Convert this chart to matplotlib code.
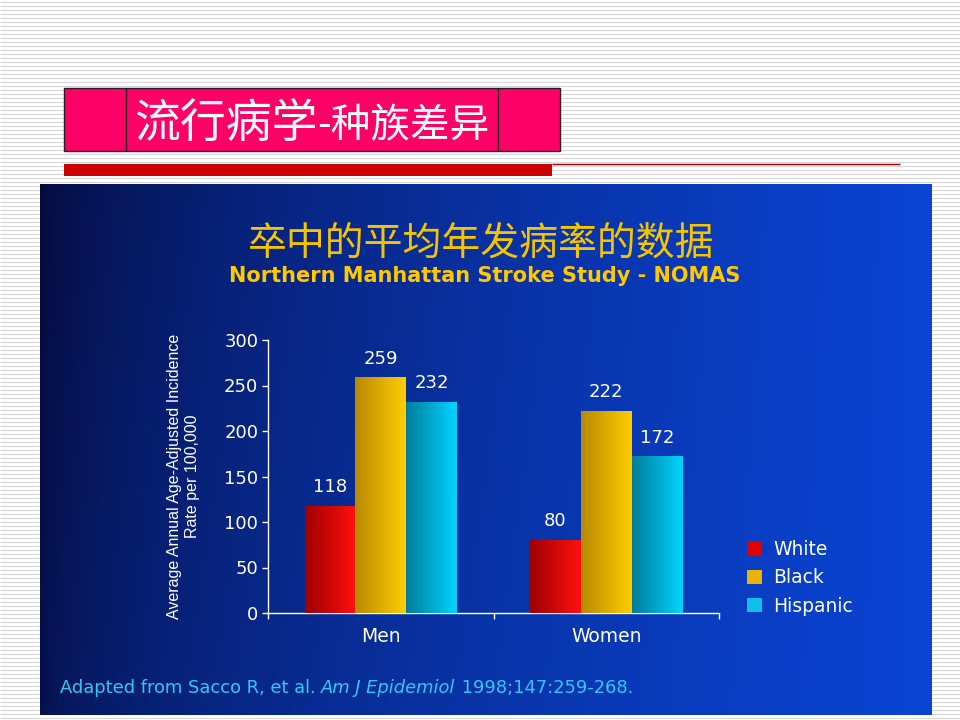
import numpy as np
import matplotlib
matplotlib.use("Agg")
import matplotlib.pyplot as plt
from matplotlib.patches import Rectangle, Patch

plt.rcParams['font.family'] = ['DejaVu Sans', 'Noto Sans CJK SC']

# data
groups = ['Men', 'Women']
series = ['White', 'Black', 'Hispanic']
values = {
    'White': [118, 80],
    'Black': [259, 222],
    'Hispanic': [232, 172],
}
yticks = [0, 50, 100, 150, 200, 250, 300]

# bar gradient colours (left -> right)
grad = {
    'White': ('#a00000', '#ff1010'),
    'Black': ('#b88a00', '#ffcc00'),
    'Hispanic': ('#007d9c', '#00d4ff'),
}
flat = {'White': '#e00000', 'Black': '#e8b400', 'Hispanic': '#10bfe8'}

fig = plt.figure(figsize=(9.6, 7.2), dpi=100)

# slide background, in pixel coordinates
bg = fig.add_axes([0, 0, 1, 1])
bg.set_xlim(0, 960)
bg.set_ylim(720, 0)
bg.axis('off')
bg.hlines(np.arange(1.5, 720, 4), 0, 960, color='#d6d6d6', lw=0.8, zorder=0)

bg.add_patch(Rectangle((64, 88), 496, 63, fc='#ff0066', ec='#222222', lw=1, zorder=1))
bg.vlines([126, 498], 88, 151, color='#222222', lw=1, zorder=1.5)
bg.add_patch(Rectangle((64, 164), 488, 12, fc='#cc0000', ec='none', zorder=1))
bg.hlines(164, 552, 900, color='#a00000', lw=1, zorder=1)

t1 = bg.text(134, 137, '流行病学', color='white', fontsize=33,
             family=['Noto Sans CJK SC'], va='baseline', zorder=3)
fig.canvas.draw()
r = fig.canvas.get_renderer()
ext = t1.get_window_extent(r)
bg.text(ext.x1, 137, '-种族差异', color='white', fontsize=28.5,
        family=['Noto Sans CJK SC'], va='baseline', zorder=3)

# blue panel gradient
gx = np.linspace(0, 1, 300)
gy = np.linspace(0, 1, 200)
X, Y = np.meshgrid(gx, gy)
f = np.clip(X ** 0.6 + 0.12 * Y * (1 - X), 0, 1)
c0 = np.array([5, 10, 58]) / 255
c1 = np.array([10, 68, 212]) / 255
img = c0 + (c1 - c0) * f[..., None]
bg.imshow(img, extent=(40, 932, 715, 184), aspect='auto', zorder=2)
bg.set_xlim(0, 960)
bg.set_ylim(720, 0)

fig.text(0.501, 0.661, '卒中的平均年发病率的数据', color='#f5c400', fontsize=28,
         family=['Noto Sans CJK SC'], ha='center', va='center')
fig.text(0.505, 0.617, 'Northern Manhattan Stroke Study - NOMAS', color='#ffc800',
         fontsize=15, fontweight='bold', ha='center', va='center')

# chart
ax = fig.add_axes([268 / 960, 107 / 720, 451 / 960, 273 / 720])
ax.patch.set_alpha(0)
x = np.arange(len(groups))
w = 0.225
for i, s in enumerate(series):
    bars = ax.bar(x + (i - 1) * w, values[s], w, color=flat[s], zorder=2)
    cmap = matplotlib.colors.LinearSegmentedColormap.from_list(s, grad[s])
    for b, v in zip(bars, values[s]):
        im = ax.imshow(np.linspace(0, 1, 64)[None, :], cmap=cmap, aspect='auto',
                       extent=(b.get_x(), b.get_x() + b.get_width(), 0, b.get_height()),
                       zorder=3)
        im.set_clip_path(b)
        ax.annotate(str(v), (b.get_x() + b.get_width() / 2, v), xytext=(0, 7),
                    textcoords='offset points', ha='center', va='bottom',
                    color='white', fontsize=13)

ax.set_xlim(-0.5, 1.5)
ax.set_ylim(0, 300)
ax.set_yticks(yticks)
ax.set_xticks(x)
ax.set_xticklabels(groups)
ax.set_xticks([-0.5, 0.5, 1.5], minor=True)
for sp in ['top', 'right']:
    ax.spines[sp].set_visible(False)
for sp in ['left', 'bottom']:
    ax.spines[sp].set_color('white')
    ax.spines[sp].set_linewidth(1)
ax.tick_params(axis='y', colors='white', labelsize=13, length=4, width=1, pad=3)
ax.tick_params(axis='x', which='major', colors='white', labelsize=13.5, length=0, pad=10)
ax.tick_params(axis='x', which='minor', colors='white', length=4, width=1)

ax.set_ylabel('Average Annual Age-Adjusted Incidence\nRate per 100,000', color='white',
              fontsize=11.5, family=['Liberation Sans', 'DejaVu Sans'],
              linespacing=1.2)
ax.yaxis.set_label_coords(-0.151, 0.5)

handles = [Patch(fc=flat[s], ec='none') for s in series]
fig.legend(handles, series, loc='upper left', bbox_to_anchor=(730 / 960, 1 - 523 / 720),
           frameon=False, fontsize=13.5, labelcolor='white', handlelength=0.8,
           handleheight=0.8, handletextpad=0.6, labelspacing=0.5)

# footnote, with italic journal name
parts = [('Adapted from Sacco R, et al. ', 'normal'), ('Am J Epidemiol', 'italic'),
         (' 1998;147:259-268.', 'normal')]
fx = 60
for txt, st in parts:
    t = bg.text(fx, 688, txt, color='#30c8f8', fontsize=12.9, style=st,
                va='center', zorder=5)
    fig.canvas.draw()
    fx = bg.transData.inverted().transform((t.get_window_extent(r).x1, 0))[0]

fig.savefig('out.png', dpi=100)
